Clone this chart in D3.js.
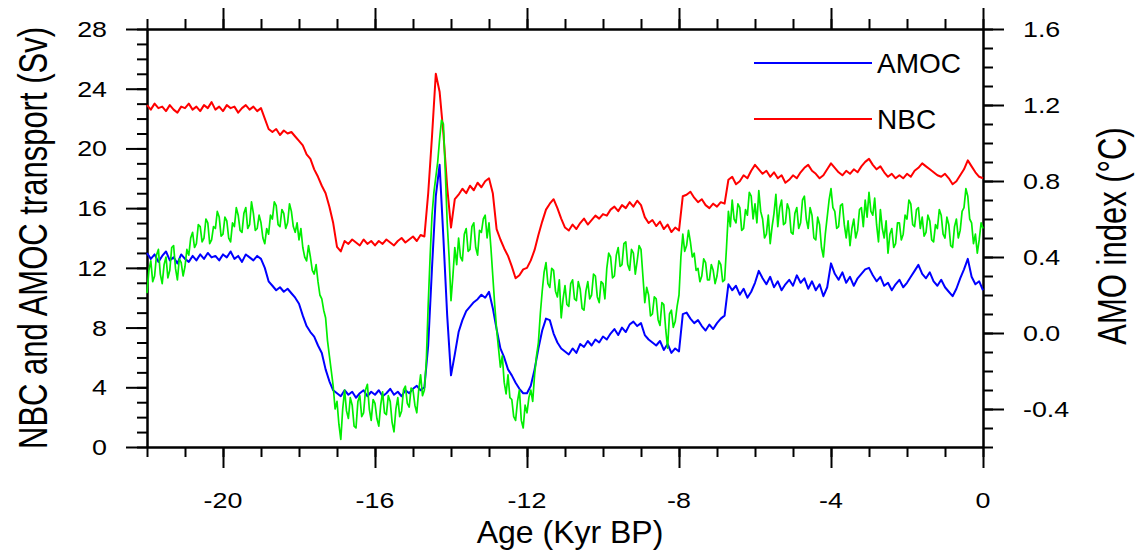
<!DOCTYPE html>
<html>
<head>
<meta charset="utf-8">
<script src="https://cdn.jsdelivr.net/npm/d3@7"></script>
<style>
  html, body { margin: 0; padding: 0; background: #fff; }
  svg { display: block; font-family: "Liberation Sans", Arial, Helvetica, sans-serif; }
</style>
</head>
<body>
<svg id="chart" width="1139" height="558"></svg>
<script>
// sampling grids: transports every 0.1 kyr, AMO every 0.05 kyr, from -22 to 0
var ageStart = -22, ageStep = 0.1, amoStep = 0.05;

// NBC transport (Sv), one row per kyr
var nbc = [
  22.9, 22.6, 23.0, 22.7, 22.8, 22.5, 22.9, 22.6, 22.4, 22.8,
  22.7, 23.0, 22.6, 22.8, 22.5, 22.9, 22.7, 23.1, 22.6, 22.8,
  22.5, 22.9, 22.7, 22.8, 22.4, 22.7, 22.9, 22.6, 22.8, 22.5,
  22.7, 22.0, 21.3, 21.1, 21.3, 20.9, 21.2, 21.0, 21.1, 20.8,
  20.5, 20.2, 19.6, 19.3, 18.6, 18.1, 17.5, 17.0, 16.1, 15.0,
  13.4, 13.1, 13.8, 13.6, 13.9, 13.7, 13.5, 13.9, 13.6, 13.8,
  13.5, 13.8, 13.6, 13.9, 13.7, 13.5, 13.8, 14.0, 13.7, 13.9,
  14.1, 13.8, 14.2, 14.1, 17.0, 20.8, 25.0, 23.8, 21.0, 17.4,
  14.7, 16.6, 16.9, 17.3, 17.0, 17.5, 17.2, 17.7, 17.4, 17.8,
  18.0, 17.0, 14.6, 13.9, 13.3, 12.8, 12.1, 11.3, 11.5, 11.9,
  12.0, 12.5, 13.2, 14.2, 15.1, 15.9, 16.3, 16.6, 16.0, 15.3,
  14.7, 14.5, 14.9, 14.6, 15.0, 15.3, 14.9, 15.2, 15.5, 15.3,
  15.6, 15.5, 15.9, 16.1, 15.8, 16.2, 16.0, 16.4, 16.1, 16.5,
  16.2, 15.4, 15.0, 15.2, 14.8, 15.1, 14.6, 14.9, 14.4, 14.7,
  14.5, 16.8, 16.9, 17.1, 16.7, 16.4, 16.6, 16.2, 16.0, 16.3,
  16.1, 16.4, 16.3, 17.9, 18.1, 17.6, 17.8, 18.2, 18.0, 18.5,
  18.9, 18.6, 18.3, 18.5, 18.1, 18.4, 18.0, 18.2, 17.7, 17.9,
  18.2, 18.0, 18.4, 18.7, 18.9, 18.5, 18.3, 18.0, 18.2, 18.6,
  19.0, 18.7, 18.4, 18.2, 18.5, 18.3, 18.6, 18.4, 18.8, 19.1,
  19.3, 18.9, 18.6, 18.8, 18.4, 18.1, 18.3, 18.0, 18.2, 18.0,
  18.3, 18.1, 18.5, 18.7, 19.0, 18.8, 18.6, 18.4, 18.2, 18.1,
  18.3, 18.0, 17.6, 17.8, 18.2, 18.6, 19.2, 18.8, 18.4, 18.1,
  18.0
];

// AMOC transport (Sv)
var amoc = [
  13.0, 12.6, 12.9, 12.4, 12.8, 13.1, 12.5, 12.7, 12.3, 12.9,
  12.6, 12.4, 12.8, 12.5, 12.9, 12.6, 13.0, 12.7, 12.8, 12.5,
  12.9, 12.7, 13.1, 12.6, 12.8, 12.4, 12.9, 12.7, 12.5, 12.8,
  12.6, 12.0, 11.1, 10.8, 10.5, 10.7, 10.4, 10.6, 10.3, 10.0,
  9.6, 8.8, 8.1, 7.7, 7.4, 6.8, 6.3, 5.2, 4.4, 3.8,
  3.6, 3.4, 3.8, 3.5, 3.7, 3.3, 3.6, 3.8, 3.4, 3.7,
  3.5, 3.8, 3.4, 3.6, 3.9, 3.5, 3.7, 3.4, 3.8, 3.6,
  3.9, 4.1, 3.8, 4.0, 6.8, 12.0, 16.8, 18.9, 14.0, 8.8,
  4.8, 6.2, 7.7, 8.5, 9.1, 9.4, 9.7, 9.9, 10.2, 10.0,
  10.4, 9.3, 7.9, 6.6, 6.0, 5.2, 4.8, 4.3, 3.9, 3.6,
  3.6, 4.1, 5.2, 6.6, 7.8, 8.6, 8.5, 7.6, 7.0, 6.6,
  6.4, 6.2, 6.6, 6.3, 6.9, 6.7, 7.1, 6.8, 7.2, 7.0,
  7.4, 7.2, 7.6, 7.9, 7.5, 8.0, 7.7, 8.2, 8.4, 8.1,
  8.3, 7.5, 7.2, 7.0, 6.8, 7.1, 6.5, 6.9, 6.3, 6.6,
  6.4, 8.9, 9.0, 8.6, 8.3, 8.5, 8.1, 7.8, 8.2, 7.9,
  8.3, 8.6, 8.8, 10.9, 10.5, 10.8, 10.2, 10.6, 10.0, 10.4,
  11.0, 11.8, 11.3, 10.9, 11.4, 10.7, 11.1, 10.5, 10.9, 11.2,
  10.8, 11.5, 11.0, 11.3, 10.6, 11.1, 10.5, 10.9, 10.1, 10.7,
  12.3, 11.6, 11.2, 11.7, 11.0, 11.4, 10.8, 11.3, 11.6, 11.9,
  12.0, 11.5, 11.1, 11.4, 10.8, 11.0, 10.5, 10.9, 11.2, 10.7,
  11.0, 11.4, 11.8, 12.2, 11.6, 11.3, 11.7, 11.1, 10.8, 11.2,
  10.7, 10.4, 10.1, 10.6, 11.3, 11.9, 12.6, 11.4, 10.9, 11.1,
  10.5
];

// AMO index (deg C), right axis, 20 values per kyr
var amo = [
  0.21, 0.33, 0.38, 0.27, 0.30, 0.41, 0.44, 0.31, 0.26, 0.36, 0.40, 0.29, 0.33, 0.45, 0.46, 0.34, 0.28, 0.39, 0.37, 0.30,
  0.35, 0.44, 0.41, 0.50, 0.53, 0.45, 0.47, 0.57, 0.56, 0.48, 0.50, 0.60, 0.58, 0.47, 0.49, 0.56, 0.55, 0.64, 0.61, 0.51,
  0.52, 0.61, 0.59, 0.50, 0.48, 0.58, 0.56, 0.66, 0.62, 0.54, 0.53, 0.63, 0.66, 0.55, 0.57, 0.69, 0.63, 0.54, 0.55, 0.62,
  0.58, 0.50, 0.47, 0.55, 0.52, 0.62, 0.60, 0.69, 0.67, 0.57, 0.56, 0.65, 0.63, 0.55, 0.58, 0.68, 0.64, 0.56, 0.53, 0.58,
  0.49, 0.55, 0.45, 0.40, 0.38, 0.46, 0.40, 0.33, 0.31, 0.36, 0.27, 0.20, 0.18, 0.12, 0.08, -0.04, -0.12, -0.20, -0.28, -0.40,
  -0.36, -0.48, -0.56, -0.40, -0.30, -0.41, -0.45, -0.34, -0.38, -0.49, -0.50, -0.36, -0.33, -0.44, -0.42, -0.30, -0.27, -0.40, -0.46, -0.35,
  -0.37, -0.45, -0.49, -0.38, -0.31, -0.42, -0.43, -0.33, -0.36, -0.47, -0.52, -0.40, -0.34, -0.44, -0.41, -0.30, -0.28, -0.37, -0.39, -0.29,
  -0.30, -0.38, -0.42, -0.30, -0.22, -0.33, -0.30, -0.15, 0.15, 0.40, 0.62, 0.74, 0.82, 0.90, 1.02, 1.12, 1.10, 0.85, 0.58, 0.40,
  0.17, 0.30, 0.45, 0.36, 0.50, 0.40, 0.38, 0.52, 0.55, 0.43, 0.44, 0.56, 0.58, 0.45, 0.41, 0.54, 0.53, 0.60, 0.62, 0.50,
  0.58, 0.45, 0.30, 0.15, 0.02, -0.08, -0.18, -0.12, -0.26, -0.32, -0.22, -0.34, -0.35, -0.44, -0.46, -0.36, -0.30, -0.46, -0.50, -0.38,
  -0.42, -0.34, -0.30, -0.36, -0.22, -0.12, -0.05, 0.10, 0.22, 0.32, 0.37, 0.26, 0.24, 0.34, 0.33, 0.22, 0.19, 0.28, 0.08, 0.18,
  0.25, 0.15, 0.14, 0.26, 0.28, 0.18, 0.17, 0.27, 0.23, 0.13, 0.12, 0.22, 0.27, 0.18, 0.20, 0.31, 0.30, 0.19, 0.16, 0.27,
  0.26, 0.18, 0.34, 0.42, 0.40, 0.29, 0.30, 0.41, 0.45, 0.35, 0.36, 0.47, 0.48, 0.36, 0.33, 0.44, 0.42, 0.31, 0.38, 0.46,
  0.44, 0.30, 0.16, 0.24, 0.20, 0.09, 0.10, 0.19, 0.18, 0.07, 0.04, 0.16, 0.15, 0.02, -0.08, 0.10, 0.12, 0.03, 0.06, 0.14,
  0.20, 0.40, 0.52, 0.43, 0.46, 0.54, 0.48, 0.40, 0.42, 0.33, 0.34, 0.27, 0.30, 0.39, 0.37, 0.28, 0.28, 0.36, 0.33, 0.26,
  0.30, 0.38, 0.36, 0.27, 0.28, 0.45, 0.64, 0.56, 0.70, 0.60, 0.58, 0.68, 0.66, 0.54, 0.55, 0.65, 0.62, 0.74, 0.72, 0.60,
  0.68, 0.58, 0.75, 0.64, 0.60, 0.50, 0.52, 0.62, 0.47, 0.56, 0.63, 0.73, 0.56, 0.66, 0.70, 0.57, 0.58, 0.68, 0.65, 0.53,
  0.52, 0.63, 0.66, 0.55, 0.58, 0.70, 0.72, 0.60, 0.55, 0.66, 0.62, 0.50, 0.49, 0.61, 0.57, 0.45, 0.40, 0.52, 0.61, 0.70,
  0.76, 0.66, 0.64, 0.55, 0.56, 0.67, 0.68, 0.57, 0.50, 0.59, 0.46, 0.55, 0.60, 0.50, 0.54, 0.65, 0.66, 0.56, 0.70, 0.61,
  0.74, 0.64, 0.62, 0.71, 0.57, 0.48, 0.65, 0.55, 0.50, 0.59, 0.42, 0.52, 0.55, 0.45, 0.47, 0.58, 0.58, 0.49, 0.52, 0.62,
  0.60, 0.70, 0.68, 0.57, 0.56, 0.65, 0.66, 0.55, 0.61, 0.51, 0.53, 0.62, 0.59, 0.49, 0.48, 0.57, 0.55, 0.65, 0.62, 0.52,
  0.50, 0.61, 0.57, 0.46, 0.45, 0.56, 0.60, 0.50, 0.54, 0.64, 0.66, 0.76, 0.72, 0.60, 0.58, 0.47, 0.52, 0.42, 0.49, 0.58,
  0.55
];

var xTicks = [-20, -16, -12, -8, -4, 0];
var yLeftTicks = [0, 4, 8, 12, 16, 20, 24, 28];
var yRightTicks = [-0.4, 0.0, 0.4, 0.8, 1.2, 1.6];
var yRightLabels = ["-0.4", "0.0", "0.4", "0.8", "1.2", "1.6"];

var legendNames = ["AMOC", "NBC"];
var legendColors = ["#0000ff", "#ff0000"];

var svg = d3.select("#chart"),
    margin = {left: 147, right: 156, top: 29, bottom: 111},
    width = +svg.attr("width") - margin.left - margin.right,
    height = +svg.attr("height") - margin.top - margin.bottom;

var g = svg.append("g").attr("transform", "translate(" + margin.left + "," + margin.top + ")");

var x = d3.scaleLinear().domain([-22, 0]).range([0, width]);
var yL = d3.scaleLinear().domain([0, 28]).range([height, 0]);
var yR = d3.scaleLinear().domain([-0.6, 1.6]).range([height, 0]);

// major and minor ticks on all four sides, no labels (labels drawn below)
var majorLen = 21, minorLen = 10;
function tickAxis(axisFn, scale, ticks, len) {
  return axisFn(scale).tickValues(ticks).tickSize(len).tickSizeOuter(0).tickFormat("");
}
var xMinor = d3.range(-22, 1, 1);
var yLMinor = d3.range(0, 29, 1);
var yRMinor = d3.range(-6, 17, 1).map(function(d) { return d / 10; });

function styleAxis(sel) {
  sel.selectAll("path").attr("stroke", "#000").attr("stroke-width", 2);
  sel.selectAll("line").attr("stroke", "#000").attr("stroke-width", 2);
}

[[d3.axisBottom, x, "translate(0," + height + ")", xMinor, xTicks],
 [d3.axisTop, x, "translate(0,0)", xMinor, xTicks],
 [d3.axisLeft, yL, "translate(0,0)", yLMinor, yLeftTicks],
 [d3.axisRight, yR, "translate(" + width + ",0)", yRMinor, yRightTicks]
].forEach(function(a) {
  g.append("g").attr("transform", a[2]).call(tickAxis(a[0], a[1], a[3], minorLen)).call(styleAxis);
  g.append("g").attr("transform", a[2]).call(tickAxis(a[0], a[1], a[4], majorLen)).call(styleAxis);
});

// tick labels, slightly wide like the original
var labelSize = 22, stretch = 1.22;
g.selectAll(".xlab").data(xTicks).enter().append("text")
  .attr("transform", function(d) { return "translate(" + x(d) + "," + (height + 61) + ") scale(" + stretch + ",1)"; })
  .attr("text-anchor", "middle")
  .attr("font-size", labelSize)
  .text(function(d) { return d; });

g.selectAll(".ylab").data(yLeftTicks).enter().append("text")
  .attr("transform", function(d) { return "translate(" + (-40) + "," + (yL(d) + 8) + ") scale(" + stretch + ",1)"; })
  .attr("text-anchor", "end")
  .attr("font-size", labelSize)
  .text(function(d) { return d; });

g.selectAll(".yrlab").data(yRightTicks).enter().append("text")
  .attr("transform", function(d) { return "translate(" + (width + 40) + "," + (yR(d) + 8) + ") scale(" + stretch + ",1)"; })
  .attr("text-anchor", "start")
  .attr("font-size", labelSize)
  .text(function(d, i) { return yRightLabels[i]; });

// axis titles
svg.append("text")
  .attr("x", margin.left + width / 2 + 5).attr("y", 543)
  .attr("text-anchor", "middle").attr("font-size", 32)
  .text("Age (Kyr BP)");

svg.append("text")
  .attr("transform", "translate(" + 47 + "," + (margin.top + height / 2) + ") scale(1.3,1) rotate(-90)")
  .attr("text-anchor", "middle").attr("font-size", 31)
  .text("NBC and AMOC transport (Sv)");

svg.append("text")
  .attr("transform", "translate(" + 1126 + "," + (margin.top + height / 2 - 2) + ") scale(1.3,1) rotate(-90)")
  .attr("text-anchor", "middle").attr("font-size", 31)
  .text("AMO index (\u00B0C)");

// curves
var lineL = d3.line().x(function(d, i) { return x(ageStart + i * ageStep); }).y(function(d) { return yL(d); });
var lineR = d3.line().x(function(d, i) { return x(ageStart + i * amoStep); }).y(function(d) { return yR(d); });

var plot = g.append("g");
plot.append("path").datum(nbc).attr("d", lineL)
  .attr("fill", "none").attr("stroke", "#ff0000").attr("stroke-width", 2).attr("stroke-linejoin", "round");
plot.append("path").datum(amoc).attr("d", lineL)
  .attr("fill", "none").attr("stroke", "#0000ff").attr("stroke-width", 2).attr("stroke-linejoin", "round");
plot.append("path").datum(amo).attr("d", lineR)
  .attr("fill", "none").attr("stroke", "#00ee00").attr("stroke-width", 1.7).attr("stroke-linejoin", "round");

// legend
var leg = svg.selectAll(".leg").data(legendNames).enter().append("g")
  .attr("transform", function(d, i) { return "translate(754," + (63 + i * 56) + ")"; });
leg.append("line")
  .attr("x1", 0).attr("x2", 118).attr("y1", 0).attr("y2", 0)
  .attr("stroke", function(d, i) { return legendColors[i]; }).attr("stroke-width", 2);
leg.append("text")
  .attr("x", 123).attr("y", 10)
  .attr("font-size", 28)
  .text(function(d) { return d; });
</script>
</body>
</html>
